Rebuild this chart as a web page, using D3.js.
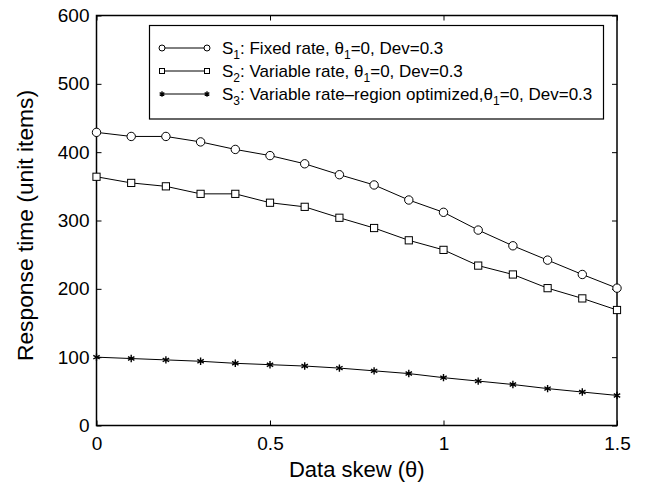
<!DOCTYPE html>
<html>
<head>
<meta charset="utf-8">
<script src="https://cdn.jsdelivr.net/npm/d3@7"></script>
<style>
  body { margin: 0; background: #fff; }
  text { font-family: "Liberation Sans", Arial, sans-serif; fill: #000; }
</style>
</head>
<body>
<div id="chart"></div>
<script>
const skew = [0, 0.1, 0.2, 0.3, 0.4, 0.5, 0.6, 0.7, 0.8, 0.9, 1.0, 1.1, 1.2, 1.3, 1.4, 1.5];
const s1 = [429, 423, 423, 415, 404, 395, 383, 367, 352, 330, 312, 286, 263, 242, 221, 201];
const s2 = [364, 355, 350, 339, 339, 326, 320, 304, 289, 271, 257, 234, 221, 201, 186, 169];
const s3 = [100, 98, 96, 94, 91, 89, 87, 84, 80, 76, 70, 65, 60, 54, 49, 44];
const xTicks = [0, 0.5, 1, 1.5];
const yTicks = [0, 100, 200, 300, 400, 500, 600];

const width = 648, height = 486;
const margin = { top: 15.5, right: 31, bottom: 60.5, left: 96.5 };

const svg = d3.select("#chart").append("svg")
  .attr("width", width)
  .attr("height", height);

const x = d3.scaleLinear().domain([0, 1.5]).range([margin.left, width - margin.right]);
const y = d3.scaleLinear().domain([0, 600]).range([height - margin.bottom, margin.top]);

// frame with inward ticks on all sides
svg.append("rect")
  .attr("x", x(0)).attr("y", y(600))
  .attr("width", x(1.5) - x(0)).attr("height", y(0) - y(600))
  .attr("fill", "none").attr("stroke", "#000").attr("stroke-width", 1.5);

const tk = 5;
svg.append("g").attr("transform", `translate(0,${y(0)})`)
  .call(d3.axisBottom(x).tickValues(xTicks).tickSize(-tk).tickPadding(11).tickFormat(d3.format("")))
  .call(g => g.select(".domain").remove());
svg.append("g").attr("transform", `translate(0,${y(600)})`)
  .call(d3.axisTop(x).tickValues(xTicks).tickSize(-tk).tickFormat(""))
  .call(g => g.select(".domain").remove());
svg.append("g").attr("transform", `translate(${x(0)},0)`)
  .call(d3.axisLeft(y).tickValues(yTicks).tickSize(-tk).tickPadding(7))
  .call(g => g.select(".domain").remove());
svg.append("g").attr("transform", `translate(${x(1.5)},0)`)
  .call(d3.axisRight(y).tickValues(yTicks).tickSize(-tk).tickFormat(""))
  .call(g => g.select(".domain").remove());

svg.selectAll(".tick text").style("font-size", "19px").style("font-family", "Liberation Sans, Arial, sans-serif");
svg.selectAll(".tick line").attr("stroke-width", 1);

// axis labels
svg.append("text")
  .attr("x", (x(0) + x(1.5)) / 2).attr("y", 477)
  .attr("text-anchor", "middle").style("font-size", "22px")
  .text("Data skew (θ)");
svg.append("text")
  .attr("transform", `translate(33,225.5) rotate(-90)`)
  .attr("text-anchor", "middle").style("font-size", "22.8px")
  .text("Response time (unit items)");

const line = d3.line().x((d, i) => x(skew[i])).y(d => y(d));

function drawMarker(g, type, cx, cy) {
  if (type === "circle") {
    g.append("circle").attr("cx", cx).attr("cy", cy).attr("r", 4.2)
      .attr("fill", "#fff").attr("stroke", "#000").attr("stroke-width", 1);
  } else if (type === "square") {
    g.append("rect").attr("x", cx - 3.6).attr("y", cy - 3.6).attr("width", 7.2).attr("height", 7.2)
      .attr("fill", "#fff").attr("stroke", "#000").attr("stroke-width", 1);
  } else {
    g.append("path").attr("d", d3.symbol(d3.symbolAsterisk, 38)())
      .attr("transform", `translate(${cx},${cy})`)
      .attr("fill", "none").attr("stroke", "#000").attr("stroke-width", 1.4);
  }
}

const series = [
  { values: s1, marker: "circle" },
  { values: s2, marker: "square" },
  { values: s3, marker: "star" }
];

series.forEach(s => {
  svg.append("path").datum(s.values)
    .attr("d", line).attr("fill", "none").attr("stroke", "#000").attr("stroke-width", 1);
  const g = svg.append("g");
  s.values.forEach((v, i) => drawMarker(g, s.marker, x(skew[i]), y(v)));
});

// legend
const legend = svg.append("g");
legend.append("rect")
  .attr("x", 149.5).attr("y", 25.5).attr("width", 454).attr("height", 93.5)
  .attr("fill", "#fff").attr("stroke", "#000").attr("stroke-width", 1.2);

const legendRows = [
  { marker: "circle", name: "1", text: ": Fixed rate, θ", tail: "=0, Dev=0.3" },
  { marker: "square", name: "2", text: ": Variable rate, θ", tail: "=0, Dev=0.3" },
  { marker: "star", name: "3", text: ": Variable rate\u2013region optimized,θ", tail: "=0, Dev=0.3" }
];

legendRows.forEach((r, i) => {
  const ly = 48 + i * 23;
  legend.append("line").attr("x1", 162).attr("x2", 207).attr("y1", ly).attr("y2", ly)
    .attr("stroke", "#000").attr("stroke-width", 1);
  const mg = legend.append("g");
  [162, 207].forEach(cx => {
    if (r.marker === "circle") {
      mg.append("circle").attr("cx", cx).attr("cy", ly).attr("r", 3)
        .attr("fill", "#fff").attr("stroke", "#000");
    } else if (r.marker === "square") {
      mg.append("rect").attr("x", cx - 2.5).attr("y", ly - 2.5).attr("width", 5).attr("height", 5)
        .attr("fill", "#fff").attr("stroke", "#000");
    } else {
      mg.append("path").attr("d", d3.symbol(d3.symbolAsterisk, 20)())
        .attr("transform", `translate(${cx},${ly})`).attr("stroke", "#000").attr("stroke-width", 1.3);
    }
  });
  const t = legend.append("text").attr("x", 222).attr("y", ly + 5.5).style("font-size", "17px");
  t.append("tspan").text("S");
  t.append("tspan").attr("dy", 5).style("font-size", "12px").text(r.name);
  t.append("tspan").attr("dy", -5).text(r.text);
  t.append("tspan").attr("dy", 5).style("font-size", "12px").text("1");
  t.append("tspan").attr("dy", -5).text(r.tail);
});
</script>
</body>
</html>
